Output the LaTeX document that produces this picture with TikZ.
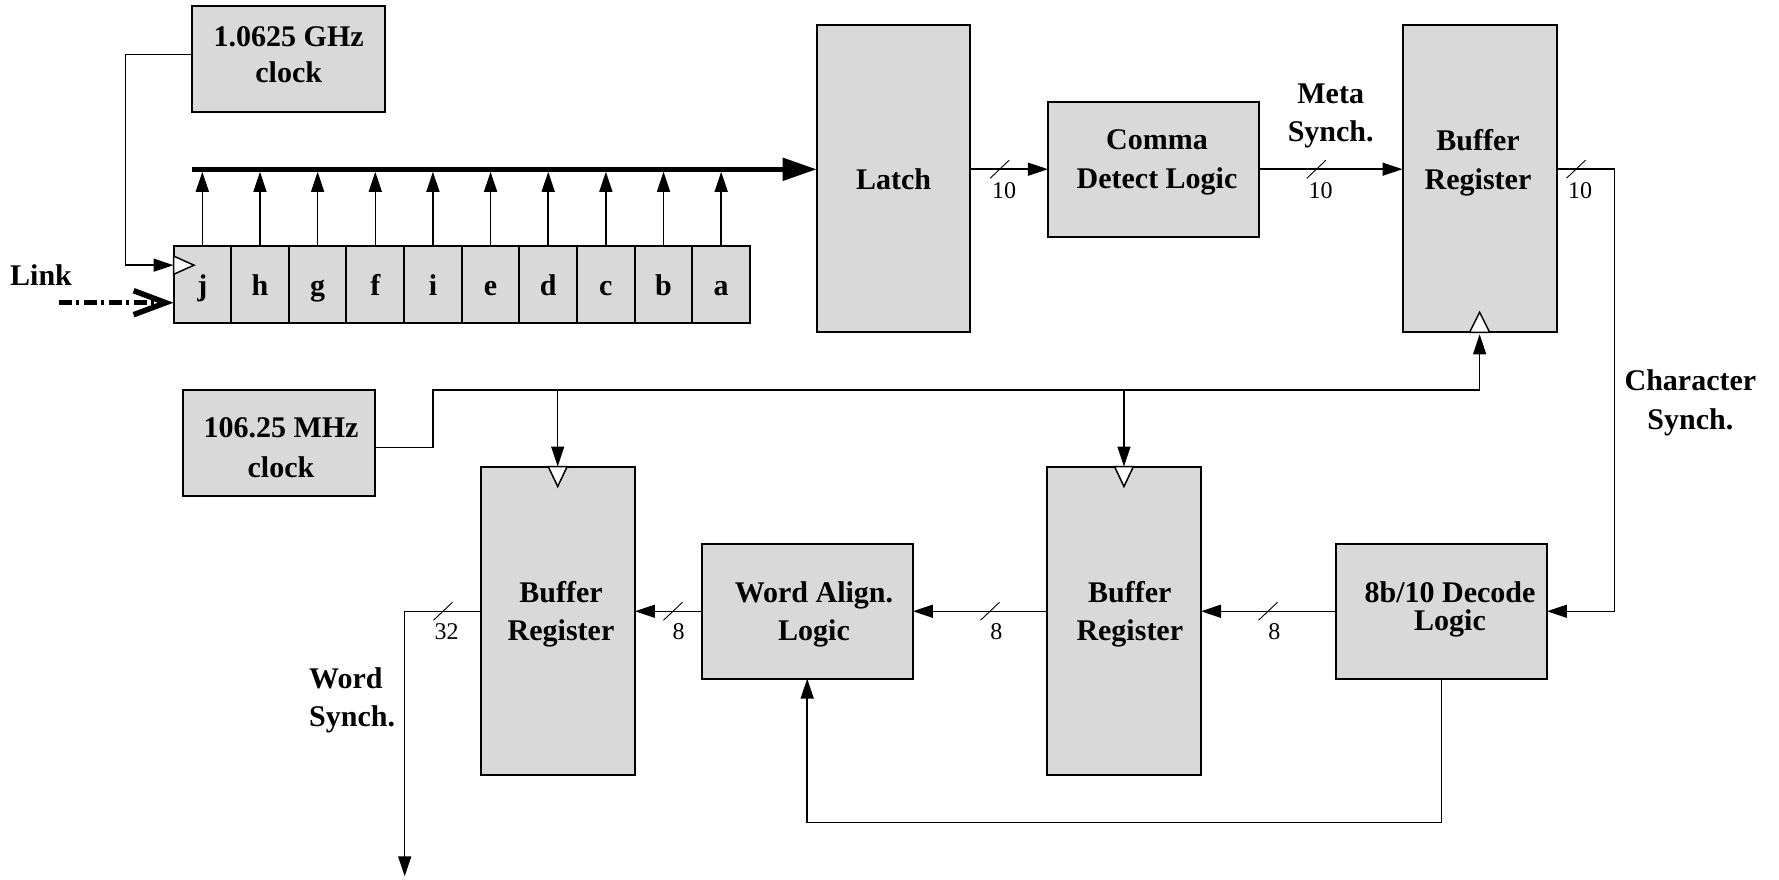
\documentclass[tikz,border=0pt]{standalone}
\usepackage{fontspec}
\setmainfont{Liberation Serif}
\usetikzlibrary{arrows.meta,calc}
\definecolor{boxgray}{gray}{0.85}
\begin{document}
\begin{tikzpicture}[x=1pt,y=-1pt,
  blk/.style={draw=black,line width=2pt,fill=boxgray,inner sep=0pt,outer sep=0pt},
  lbl/.style={font=\fontsize{30}{38}\selectfont\bfseries,align=center,inner sep=0pt},
  num/.style={font=\fontsize{24}{24}\selectfont,inner sep=0pt},
  wire/.style={line width=1.5pt},
  arr/.style={wire,-{Triangle[length=20pt,width=13pt]}},
  clktri/.style={draw=black,line width=1.5pt,fill=white},
  slash/.style={line width=0.9pt},
  cell/.style={blk,minimum width=57.65pt,minimum height=76.7pt,font=\fontsize{30}{30}\selectfont\bfseries,text height=21.3pt,text depth=0pt},
]
\useasboundingbox (0,0) rectangle (1779,879);

% blocks
\node[blk,minimum width=192.9pt,minimum height=106pt] (clk1) at (288.75,58.7) {};
\node[blk,minimum width=153.7pt,minimum height=307.3pt] (latch) at (893.55,178.65) {};
\node[blk,minimum width=211pt,minimum height=135pt] (comma) at (1153.4,169.2) {};
\node[blk,minimum width=154.2pt,minimum height=307.3pt] (buf1) at (1479.6,178.65) {};
\node[blk,minimum width=192.3pt,minimum height=106.3pt] (clk2) at (279.25,442.95) {};
\node[blk,minimum width=154.4pt,minimum height=308.4pt] (buf3) at (557.7,620.7) {};
\node[blk,minimum width=211.4pt,minimum height=134.7pt] (walign) at (807.2,611.25) {};
\node[blk,minimum width=154.1pt,minimum height=308.4pt] (buf2) at (1123.95,620.7) {};
\node[blk,minimum width=210.8pt,minimum height=134.7pt] (decode) at (1441.5,611.25) {};

% shift register cells and taps
\coordinate (busB) at (0,171.8);
\foreach \l [count=\i] in {j,h,g,f,i,e,d,c,b,a} {
  \node[cell] (c\i) at ({173.5+57.65*(\i-0.5)},284.35) {\l};
  \draw[arr] (c\i.north) -- (c\i.north |- busB);
}

% texts
\node[lbl,font=\fontsize{30}{36}\selectfont\bfseries] (tclk1) at (288.7,55) {1.0625 GHz\\clock};
\node[lbl] (tlatch) at (893.6,179) {Latch};
\node[lbl,font=\fontsize{30}{39}\selectfont\bfseries] (tcomma) at (1157,162.5) {Comma\\Detect Logic};
\node[lbl,font=\fontsize{30}{39}\selectfont\bfseries] (tbuf1) at (1478,162.5) {Buffer\\Register};
\node[lbl] (tmeta) at (1330.7,115.5) {Meta\\Synch.};
\node[lbl,font=\fontsize{30}{39}\selectfont\bfseries] (tchar) at (1690.4,403.2) {Character\\Synch.};
\node[lbl,font=\fontsize{30}{39.5}\selectfont\bfseries] (tclk2) at (281,447.5) {106.25 MHz\\clock};
\node[lbl] (tbuf3) at (561,614.6) {Buffer\\Register};
\node[lbl] (twal) at (814,614.6) {Word Align.\\Logic};
\node[lbl] (tbuf2) at (1129.8,614.6) {Buffer\\Register};
\node[lbl,font=\fontsize{30}{27.5}\selectfont\bfseries] (tdec) at (1450,609.5) {8b/10 Decode\\Logic};
\node[lbl,align=left,anchor=west] (tword) at (309,700.5) {Word\\Synch.};
\node[font=\fontsize{30}{30}\selectfont\bfseries,anchor=base west,inner sep=0pt] (tlink) at (10,285) {Link};

% bus
\coordinate (busL) at (192.3,169.3);
\draw[line width=5pt,-{Triangle[length=34pt,width=22pt]}] (busL) -- (latch.west |- busL);

% 1.0625 GHz clock to register
\coordinate (k1) at (125.5,54.3);
\coordinate (regclk) at ($(c1.north west)!0.25!(c1.south west)$);
\draw[arr] (clk1.west |- k1) -- (k1) -- (k1 |- regclk) -- (regclk);
\draw[clktri] (regclk) ++(0,-9.2) -- ++(20.5,9.2) -- ++(-20.5,9.2) -- cycle;

% link input
\coordinate (lk) at (58.7,302.7);
\draw[line width=5pt,dash pattern=on 13pt off 4pt on 3.5pt off 4.5pt,
      -{Straight Barb[length=32pt,width=24pt,line width=5.5pt]}] (lk) -- (c1.west |- lk);

% data path
\draw[arr] (latch.east |- comma.west) -- (comma.west);
\draw[arr] (comma.east) -- (buf1.west |- comma.east);
\coordinate (rr) at (1614.3,169.2);
\draw[arr] (buf1.east |- comma.east) -- (rr) -- (rr |- decode.east) -- (decode.east);
\draw[arr] (decode.west) -- (buf2.east |- decode.west);
\draw[arr] (buf2.west |- walign.east) -- (walign.east);
\draw[arr] (walign.west) -- (buf3.east |- walign.west);
\coordinate (wo) at (404.7,611.25);
\coordinate (wend) at (404.7,876.3);
\draw[arr] (buf3.west |- walign.west) -- (wo) -- (wend);

% feedback
\coordinate (fb) at (0,822.3);
\draw[arr] (decode.south) -- (decode.south |- fb) -- (walign.south |- fb) -- (walign.south);

% 106.25 MHz clock distribution
\coordinate (k2a) at (432.8,447.6);
\coordinate (k2b) at (432.8,390.2);
\draw[arr] (clk2.east |- k2a) -- (k2a) -- (k2b) -- (buf1.south |- k2b) -- ($(buf1.south)+(0,2)$);
\draw[arr] (buf3.north |- k2b) -- (buf3.north);
\draw[arr] (buf2.north |- k2b) -- (buf2.north);
\draw[clktri] (buf1.south) ++(-10,0) -- ++(10,-20) -- ++(10,20) -- cycle;
\draw[clktri] (buf3.north) ++(-9.5,0) -- ++(9.5,20) -- ++(9.5,-20) -- cycle;
\draw[clktri] (buf2.north) ++(-9.5,0) -- ++(9.5,20) -- ++(9.5,-20) -- cycle;

% bus width marks
\foreach \sx/\sy/\nx/\ny/\t/\nm in {999.7/169.2/1004/191/10/n1, 1316.4/169.2/1320.5/191/10/n2, 1576/169.2/1580/191/10/n3,
   1268/611.25/1274.4/631.4/8/n4, 990/611.25/996.4/631.4/8/n5, 673/611.25/678.5/631.4/8/n6, 443/611.25/446.6/631.4/32/n7} {
  \draw[slash] (\sx,\sy) ++(-9.5,9) -- ++(19,-18);
  \node[num] (\nm) at (\nx,\ny) {\t};
}
\end{tikzpicture}
\end{document}
